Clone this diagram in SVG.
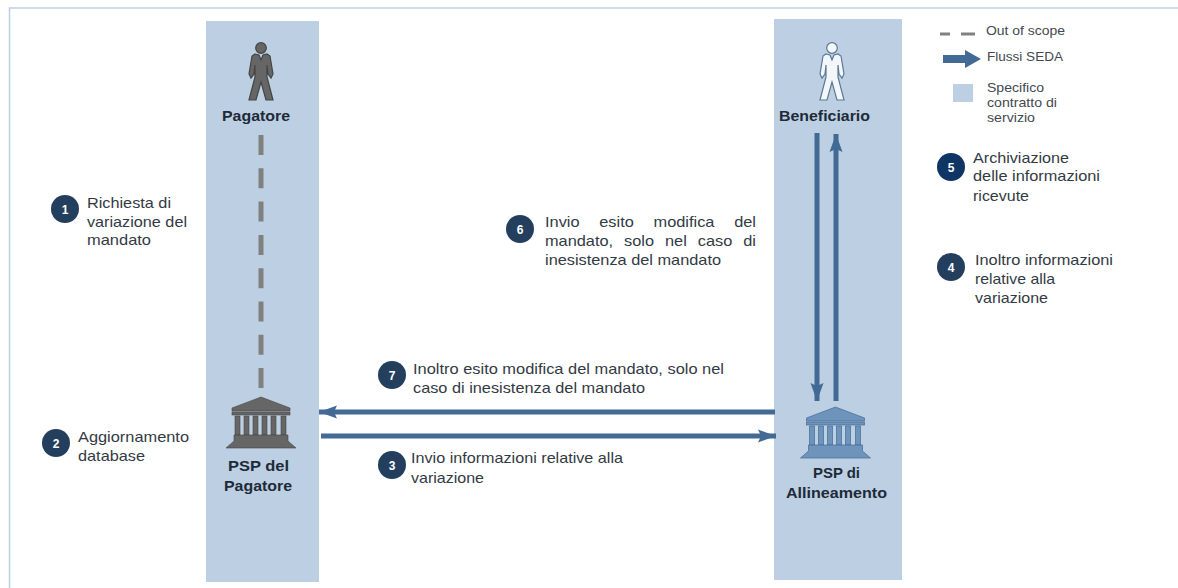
<svg xmlns="http://www.w3.org/2000/svg" width="1178" height="588" viewBox="0 0 1178 588">
<style>
text{font-family:"Liberation Sans",Arial,sans-serif;font-size:15px;fill:#333a44}
.b{font-weight:bold;font-size:15px;fill:#1e2a38}
.l{font-size:13px;fill:#44484f}
.n{font-weight:bold;font-size:12px;fill:#fff;text-anchor:middle}
.lane{fill:#bdd0e3}
.c{fill:#243f5e}
.f{fill:none;stroke:#426a94;stroke-width:5}
</style>
<defs>
<marker id="ah" markerUnits="userSpaceOnUse" markerWidth="20" markerHeight="16" refX="18" refY="8" orient="auto"><path d="M0 1.500L18 8L0 14.500L3 8Z" fill="#426a94"/></marker>
<g id="person">
<circle cx="0" cy="-24" r="5.300"/>
<path d="M-6-18L-2-17L0-12L2-17L6-18L9-16L12 2L10 6L7 2L6-7L6 5L12 28L5 28L0 10L-5 28L-12 28L-6 5L-6-7L-7 2L-10 6L-12 2L-9-16Z"/>
</g>
<g id="bank">
<path d="M-29 5L0-6L29 5V8H-29Z"/>
<rect x="-29" y="9" width="58" height="3"/>
<path d="M-26 13h5v19h-5zM-17 13h5v19h-5zM-8 13h5v19h-5zM1 13h5v19h-5zM10 13h5v19h-5zM20 13h5v19h-5z"/>
<path d="M-27 32H27V38L35 45H-35L-27 38Z"/>
</g>
</defs>
<rect width="1178" height="588" fill="#fff"/>
<path d="M1178 8H9.500V588" fill="none" stroke="#bdd0e3" stroke-width="1.500"/>
<g id="lanes">
<rect class="lane" x="206" y="21" width="113" height="561"/>
<rect class="lane" x="774" y="19" width="128" height="561"/>
<rect class="lane" x="953" y="84" width="20" height="18"/>
</g>
<g id="connectors">
<path d="M261 135V388" fill="none" stroke="#808080" stroke-width="5" stroke-dasharray="20 13.300"/>
<path class="f" d="M775 412H319" marker-end="url(#ah)"/>
<path class="f" d="M321 436H776" marker-end="url(#ah)"/>
<path class="f" d="M817 133V401" marker-end="url(#ah)"/>
<path class="f" d="M836 401V134" marker-end="url(#ah)"/>
</g>
<g id="pagatore">
<use href="#person" x="261" y="72" fill="#666" stroke="#444" stroke-width="1.200"/>
<text class="b" x="222" y="121" textLength="68" lengthAdjust="spacingAndGlyphs">Pagatore</text>
</g>
<g id="beneficiario">
<use href="#person" x="832" y="72" fill="#f4f7fa" stroke="#5a7896" stroke-width="1.200"/>
<text class="b" x="779" y="121" textLength="91" lengthAdjust="spacingAndGlyphs">Beneficiario</text>
</g>
<g id="psp-pagatore">
<use href="#bank" x="261" y="403" fill="#666" stroke="#444" stroke-width=".6"/>
<text class="b" x="228" y="471" textLength="61" lengthAdjust="spacingAndGlyphs">PSP del</text>
<text class="b" x="224" y="491" textLength="68" lengthAdjust="spacingAndGlyphs">Pagatore</text>
</g>
<g id="psp-allineamento">
<use href="#bank" x="835.500" y="413" fill="#6f94bb" stroke="#426a94" stroke-width=".7"/>
<text class="b" x="813" y="478" textLength="47" lengthAdjust="spacingAndGlyphs">PSP di</text>
<text class="b" x="786" y="498" textLength="101" lengthAdjust="spacingAndGlyphs">Allineamento</text>
</g>
<g id="legend">
<path d="M940 34H950M961 34H975" fill="none" stroke="#808080" stroke-width="3"/>
<path d="M943 55H965V50L981 59L965 68V63H943Z" fill="#426a94"/>
<text class="l" x="986" y="35" textLength="79" lengthAdjust="spacingAndGlyphs">Out of scope</text>
<text class="l" x="987" y="61" textLength="76" lengthAdjust="spacingAndGlyphs">Flussi SEDA</text>
<text class="l" x="987" y="92" textLength="57" lengthAdjust="spacingAndGlyphs">Specifico</text>
<text class="l" x="987" y="107" textLength="70" lengthAdjust="spacingAndGlyphs">contratto di</text>
<text class="l" x="987" y="122" textLength="48" lengthAdjust="spacingAndGlyphs">servizio</text>
</g>
<g id="step-1"><circle class="c" cx="65" cy="209" r="14"/><text class="n" x="65" y="214">1</text>
<text x="87" y="208" textLength="84" lengthAdjust="spacingAndGlyphs">Richiesta di</text><text x="87" y="227" textLength="100" lengthAdjust="spacingAndGlyphs">variazione del</text><text x="87" y="245" textLength="64" lengthAdjust="spacingAndGlyphs">mandato</text></g>
<g id="step-2"><circle class="c" cx="56" cy="443" r="14"/><text class="n" x="56" y="448">2</text>
<text x="78" y="442" textLength="111" lengthAdjust="spacingAndGlyphs">Aggiornamento</text><text x="78" y="461" textLength="67" lengthAdjust="spacingAndGlyphs">database</text></g>
<g id="step-3"><circle class="c" cx="392" cy="465" r="14"/><text class="n" x="392" y="470">3</text>
<text x="411" y="463" textLength="212" lengthAdjust="spacingAndGlyphs">Invio informazioni relative alla</text><text x="411" y="483" textLength="73" lengthAdjust="spacingAndGlyphs">variazione</text></g>
<g id="step-4"><circle class="c" cx="951" cy="267" r="14"/><text class="n" x="951" y="272">4</text>
<text x="975" y="265" textLength="138" lengthAdjust="spacingAndGlyphs">Inoltro informazioni</text><text x="975" y="284" textLength="80" lengthAdjust="spacingAndGlyphs">relative alla</text><text x="975" y="303" textLength="73" lengthAdjust="spacingAndGlyphs">variazione</text></g>
<g id="step-5"><circle cx="951" cy="167" r="14" fill="#0f3564"/><text class="n" x="951" y="172">5</text>
<text x="973" y="163" textLength="96" lengthAdjust="spacingAndGlyphs">Archiviazione</text><text x="973" y="181" textLength="127" lengthAdjust="spacingAndGlyphs">delle informazioni</text><text x="973" y="201" textLength="56" lengthAdjust="spacingAndGlyphs">ricevute</text></g>
<g id="step-6"><circle class="c" cx="520" cy="229" r="14"/><text class="n" x="520" y="234">6</text>
<text x="545" y="227" style="word-spacing:13.900px" textLength="211" lengthAdjust="spacingAndGlyphs">Invio esito modifica del</text><text x="545" y="246" style="word-spacing:5.900px" textLength="211" lengthAdjust="spacingAndGlyphs">mandato, solo nel caso di</text><text x="545" y="265" textLength="176" lengthAdjust="spacingAndGlyphs">inesistenza del mandato</text></g>
<g id="step-7"><circle class="c" cx="392" cy="375" r="14"/><text class="n" x="392" y="380">7</text>
<text x="413" y="374" textLength="311" lengthAdjust="spacingAndGlyphs">Inoltro esito modifica del mandato, solo nel</text><text x="413" y="393" textLength="232" lengthAdjust="spacingAndGlyphs">caso di inesistenza del mandato</text></g>
</svg>
